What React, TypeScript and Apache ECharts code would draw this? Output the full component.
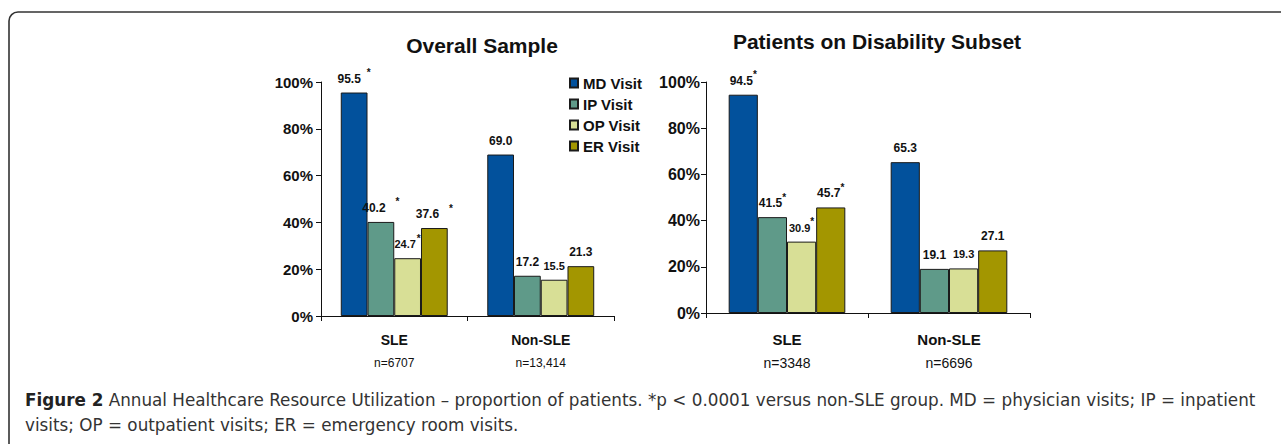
import React, { useEffect, useRef } from "react";
import * as echarts from "echarts";

const categories = ["SLE", "Non-SLE"];
const seriesNames = ["MD Visit", "IP Visit", "OP Visit", "ER Visit"];
const seriesColors = ["#02519c", "#5f9a89", "#d8df96", "#a39600"];

const overallMD = [95.5, 69.0];
const overallIP = [40.2, 17.2];
const overallOP = [24.7, 15.5];
const overallER = [37.6, 21.3];
const overallN = ["n=6707", "n=13,414"];

const disabMD = [94.5, 65.3];
const disabIP = [41.5, 19.1];
const disabOP = [30.9, 19.3];
const disabER = [45.7, 27.1];
const disabN = ["n=3348", "n=6696"];

// significance (*p < 0.0001) per category
const significant = [true, false];

const yTicks = [0, 20, 40, 60, 80, 100];

const chartTitles = ["Overall Sample", "Patients on Disability Subset"];
const captionBold = "Figure 2";
const captionLine1 =
  " Annual Healthcare Resource Utilization \u2013 proportion of patients. *p < 0.0001 versus non-SLE group. MD = physician visits; IP = inpatient";
const captionLine2 = "visits; OP = outpatient visits; ER = emergency room visits.";

const FONT = "'Liberation Sans', Arial, Helvetica, sans-serif";
const CAP_FONT = "'DejaVu Sans', sans-serif";

export default function App() {
  const ref = useRef<HTMLDivElement>(null);

  useEffect(() => {
    document.body.style.margin = "0";
    if (!ref.current) return;
    const chart = echarts.init(ref.current, null, { renderer: "svg" });

    const overall = [overallMD, overallIP, overallOP, overallER];
    const disab = [disabMD, disabIP, disabOP, disabER];

    const makeSeries = (
      data: number[][],
      gridIdx: number,
      gap: string,
      left: boolean
    ) =>
      data.map((vals, si) => ({
        name: seriesNames[si],
        type: "bar",
        xAxisIndex: gridIdx,
        yAxisIndex: gridIdx,
        barGap: "0%",
        barCategoryGap: gap,
        data: vals,
        itemStyle: {
          color: seriesColors[si],
          borderColor: "#1a1a1a",
          borderWidth: 1,
        },
        label: {
          show: true,
          position: "top",
          distance: 3,
          formatter: (p: any) => {
            const v = Number(p.value).toFixed(1);
            return significant[p.dataIndex]
              ? left
                ? `{v|${v}}{s|*}`
                : `{v|${v}}{t|*}`
              : `{v|${v}}`;
          },
          rich: {
            v: {
              fontFamily: FONT,
              fontWeight: "bold",
              fontSize: si === 2 ? 11 : 12,
              color: "#111",
              lineHeight: 22,
            },
            s: {
              fontFamily: FONT,
              fontWeight: "bold",
              fontSize: 10,
              color: "#111",
              verticalAlign: "top",
              lineHeight: 22,
              padding: [0, 0, 0, si === 0 ? 6 : si === 2 ? 1 : 10],
            },
            t: {
              fontFamily: FONT,
              fontWeight: "bold",
              fontSize: 10,
              color: "#111",
              verticalAlign: "top",
              lineHeight: 14,
              padding: [0, 0, 0, 0],
            },
          },
        },
      }));

    const xAxisCommon = (idx: number, nLabels: string[], fs: number, nfs: number, margin: number) => ({
      type: "category",
      gridIndex: idx,
      data: categories,
      axisLine: { show: true, lineStyle: { color: "#111", width: 1 } },
      axisTick: { show: true, length: 5, lineStyle: { color: "#111" }, alignWithLabel: false },
      axisLabel: {
        margin,
        formatter: (val: string, i: number) => `{c|${val}}\n{n|${nLabels[i]}}`,
        rich: {
          c: { fontFamily: FONT, fontWeight: "bold", fontSize: fs, color: "#111", lineHeight: 23 },
          n: { fontFamily: FONT, fontSize: nfs, color: "#111", lineHeight: 23 },
        },
      },
    });

    const yAxisCommon = (idx: number, fs: number, margin: number) => ({
      type: "value",
      gridIndex: idx,
      min: yTicks[0],
      max: yTicks[yTicks.length - 1],
      interval: yTicks[1] - yTicks[0],
      axisLine: { show: true, lineStyle: { color: "#111", width: 1 } },
      axisTick: { show: true, length: 5, lineStyle: { color: "#111" } },
      splitLine: { show: false },
      axisLabel: {
        margin,
        formatter: "{value}%",
        fontFamily: FONT,
        fontWeight: "bold",
        fontSize: fs,
        color: "#111",
      },
    });

    chart.setOption({
      animation: false,
      backgroundColor: "#ffffff",
      title: [
        {
          text: chartTitles[0],
          left: 477,
          top: 30,
          textAlign: "center",
          textStyle: { fontFamily: FONT, fontWeight: "bold", fontSize: 21, color: "#111" },
        },
        {
          text: chartTitles[1],
          left: 872,
          top: 26,
          textAlign: "center",
          textStyle: { fontFamily: FONT, fontWeight: "bold", fontSize: 21, color: "#111" },
        },
      ],
      legend: {
        data: seriesNames,
        orient: "vertical",
        left: 564,
        top: 69,
        icon: "rect",
        itemWidth: 8,
        itemHeight: 9,
        itemGap: 3,
        selectedMode: false,
        textStyle: {
          fontFamily: FONT,
          fontWeight: "bold",
          fontSize: 15,
          color: "#111",
          lineHeight: 18,
        },
      },
      grid: [
        { left: 321, top: 82, width: 293, height: 234 },
        { left: 706, top: 82, width: 324, height: 231 },
      ],
      xAxis: [
        xAxisCommon(0, overallN, 14, 12, 12),
        xAxisCommon(1, disabN, 15, 14, 15),
      ],
      yAxis: [yAxisCommon(0, 15, 8), yAxisCommon(1, 16, 6)],
      series: [
        ...makeSeries(overall, 0, "27%", true),
        ...makeSeries(disab, 1, "28%", false),
      ],
      graphic: [
        {
          type: "rect",
          silent: true,
          shape: { x: 9, y: 12, width: 1400, height: 600, r: [9, 0, 0, 0] },
          style: { fill: "none", stroke: "#333", lineWidth: 1.6 },
        },
        {
          type: "text",
          left: 25,
          top: 391,
          style: {
            text: `{b|${captionBold}}{r|${captionLine1}}`,
            rich: {
              b: { fontFamily: CAP_FONT, fontWeight: "bold", fontSize: 16.8, fill: "#222" },
              r: { fontFamily: CAP_FONT, fontSize: 16.8, fill: "#333" },
            },
          },
        },
        {
          type: "text",
          left: 25,
          top: 416,
          style: {
            text: captionLine2,
            fontFamily: CAP_FONT,
            fontSize: 16.8,
            fill: "#333",
          },
        },
      ],
    });

    return () => chart.dispose();
  }, []);

  return <div ref={ref} style={{ width: 1281, height: 444 }} />;
}
